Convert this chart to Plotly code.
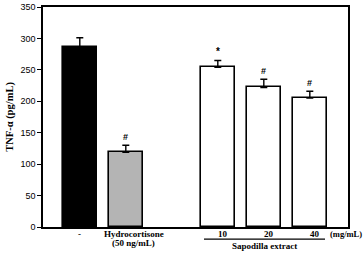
import plotly.graph_objects as go

# Data
groups = ["Control", "Hydrocortisone", "Sapodilla 10", "Sapodilla 20", "Sapodilla 40"]
x_pos = [0, 1, 3, 4, 5]
tnf_values = [287, 119, 254, 222, 205]
tnf_errors = [14, 11, 11, 13, 11]
fill_colors = ["#000000", "#b4b4b4", "#ffffff", "#ffffff", "#ffffff"]
sig_marks = ["", "#", "*", "#", "#"]
dose_labels = ["10", "20", "40"]
dose_x = [3, 4, 5]

fig = go.Figure()
fig.add_trace(go.Bar(
    x=x_pos, y=tnf_values, width=0.74,
    marker=dict(color=fill_colors, line=dict(color="black", width=1.6)),
    error_y=dict(type="data", array=tnf_errors, arrayminus=[0]*5, symmetric=False,
                 color="black", thickness=1.4, width=3.5),
    showlegend=False,
))

serif = "Liberation Serif"
sans = "Liberation Sans"

def lab(x, y, text, xshift=0, xanchor="center", size=9):
    return dict(x=x, y=y, xref="x", yref="paper", text="<b>%s</b>" % text, showarrow=False,
                xanchor=xanchor, yanchor="middle", xshift=xshift,
                font=dict(family=serif, size=size, color="black"))

annotations = []
for xi, v, e, m in zip(x_pos, tnf_values, tnf_errors, sig_marks):
    if m:
        annotations.append(dict(x=xi, y=v + e, text="<b>%s</b>" % m, showarrow=False,
                                yanchor="bottom", yshift=1,
                                font=dict(family=sans, size=10 if m == "*" else 9, color="black")))

annotations.append(lab(0, -0.032, "-"))
annotations.append(lab(1, -0.032, "Hydrocortisone", xshift=8))
annotations.append(lab(1, -0.073, "(50 ng/mL)", xshift=8))
for dx, dl in zip(dose_x, dose_labels):
    annotations.append(lab(dx, -0.03, dl, xshift=5))
annotations.append(lab(5.39, -0.03, "(mg/mL)", xanchor="left", size=8.5))
annotations.append(lab(4.02, -0.085, "Sapodilla extract"))

fig.update_layout(
    width=364, height=253,
    margin=dict(l=43, r=16, t=7, b=26, autoexpand=False),
    plot_bgcolor="white", paper_bgcolor="white",
    bargap=0,
    xaxis=dict(range=[-0.8, 5.83], showticklabels=False, ticks="", showgrid=False, zeroline=False,
               showline=True, linecolor="black", linewidth=1.5, mirror=True, automargin=False),
    yaxis=dict(range=[0, 350], tickvals=[0, 50, 100, 150, 200, 250, 300, 350],
               ticks="outside", ticklen=4, tickwidth=1.2, tickcolor="black",
               showgrid=False, zeroline=False, automargin=False,
               showline=True, linecolor="black", linewidth=1.5, mirror=True,
               tickfont=dict(family=sans, size=9, color="black"),
               title=dict(text="<b>TNF-α (pg/mL)</b>", font=dict(family=serif, size=10.5, color="black"),
                          standoff=5)),
    annotations=annotations,
    shapes=[dict(type="line", xref="x", yref="paper", x0=2.70, x1=5.33, y0=-0.055, y1=-0.055,
                 line=dict(color="black", width=1.2))],
)

fig.write_html("out.html")
